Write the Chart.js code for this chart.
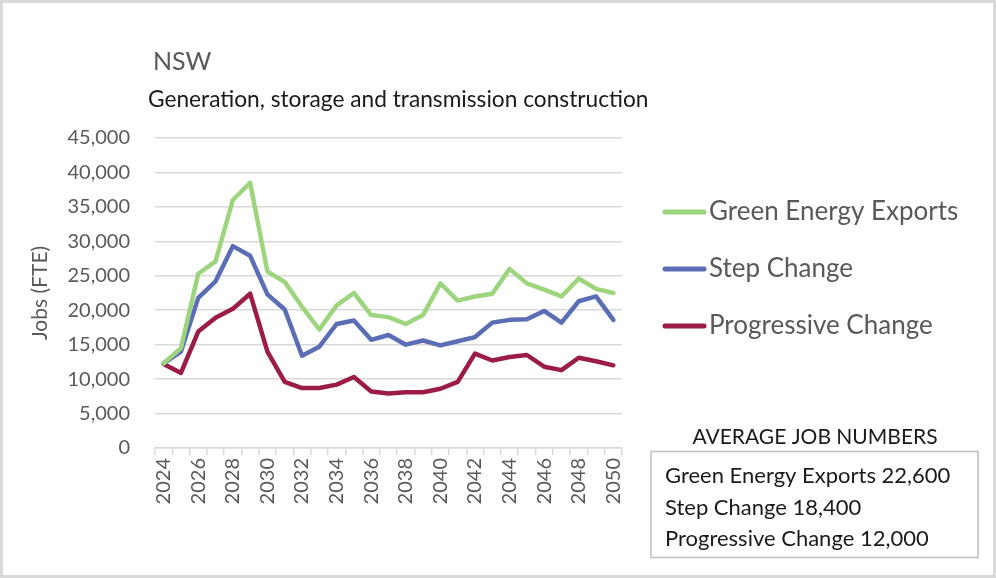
<!DOCTYPE html>
<html>
<head>
<meta charset="utf-8">
<script src="https://cdn.jsdelivr.net/npm/chart.js@4.4.1/dist/chart.umd.min.js"></script>
<style>
    html, body { margin: 0; padding: 0; background: #fff; }
    #chart-nsw { display: block; }
</style>
</head>
<body>
<canvas id="chart-nsw" width="996" height="578"></canvas>
<script>
// values
const years = ['2024', '2025', '2026', '2027', '2028', '2029', '2030', '2031', '2032',
    '2033', '2034', '2035', '2036', '2037', '2038', '2039', '2040', '2041', '2042',
    '2043', '2044', '2045', '2046', '2047', '2048', '2049', '2050'];

const greenEnergyExports = [12300, 14500, 25300, 27100, 36000, 38500, 25600, 24100, 20500,
    17200, 20700, 22500, 19300, 19000, 18000, 19300, 23900, 21400, 22000,
    22400, 26000, 23900, 23000, 22000, 24600, 23100, 22500];

const stepChange = [12300, 14000, 21800, 24200, 29300, 27900, 22300, 20100, 13400,
    14700, 18000, 18500, 15700, 16400, 15000, 15600, 14900, 15500, 16100,
    18200, 18600, 18700, 19900, 18200, 21300, 22000, 18600];

const progressiveChange = [12200, 10900, 16900, 18900, 20200, 22400, 14000, 9600, 8700,
    8700, 9200, 10300, 8200, 7900, 8100, 8100, 8600, 9600, 13700,
    12700, 13200, 13500, 11800, 11300, 13100, 12600, 12000];

const seriesNames = ['Green Energy Exports', 'Step Change', 'Progressive Change'];
const averageJobs = [22600, 18400, 12000];

const titleText = 'NSW';
const subtitleText = 'Generation, storage and transmission construction';
const boxTitle = 'AVERAGE JOB NUMBERS';

const colors = ['#9dd57f', '#5b6db5', '#9b1d45'];
const FONT = 'Lato, "Open Sans", sans-serif';
const fmt = (v) => Number(v).toLocaleString('en-US');

const decorations = {
    id: 'decorations',
    beforeDraw(chart) {
        const ctx = chart.ctx;
        ctx.save();
        ctx.fillStyle = '#fff';
        ctx.fillRect(0, 0, chart.width, chart.height);
        ctx.restore();
    },
    afterDraw(chart) {
        const ctx = chart.ctx;
        ctx.save();

        // outer frame
        ctx.strokeStyle = '#d9d9d9';
        ctx.lineWidth = 3;
        ctx.strokeRect(1.5, 1.5, chart.width - 3, chart.height - 3);

        // titles
        ctx.textBaseline = 'middle';
        ctx.textAlign = 'left';
        ctx.fillStyle = '#595959';
        ctx.font = '25px ' + FONT;
        ctx.fillText(titleText, 153, 62);
        ctx.fillStyle = '#1a1a1a';
        ctx.font = '22.7px ' + FONT;
        ctx.fillText(subtitleText, 148, 100);

        // legend
        chart.data.datasets.forEach((ds, i) => {
            const y = 212 + i * 57;
            ctx.strokeStyle = ds.borderColor;
            ctx.lineWidth = 5;
            ctx.lineCap = 'round';
            ctx.beginPath();
            ctx.moveTo(665, y);
            ctx.lineTo(704, y);
            ctx.stroke();
            ctx.fillStyle = '#595959';
            ctx.font = '26px ' + FONT;
            ctx.fillText(ds.label, 709, y);
        });

        // average box
        ctx.fillStyle = '#1a1a1a';
        ctx.textAlign = 'center';
        ctx.font = '21px ' + FONT;
        ctx.fillText(boxTitle, 815, 437);
        ctx.strokeStyle = '#bfbfbf';
        ctx.lineWidth = 1.5;
        ctx.strokeRect(651, 451.5, 327, 106);
        ctx.textAlign = 'left';
        ctx.font = '22px ' + FONT;
        seriesNames.forEach((name, i) => {
            ctx.fillText(name + ' ' + fmt(averageJobs[i]), 665, 476 + i * 31.5);
        });

        ctx.restore();
    }
};

const line = {
    fill: false,
    tension: 0,
    borderWidth: 4.5,
    pointRadius: 0,
    borderJoinStyle: 'round',
    borderCapStyle: 'round'
};

new Chart(document.getElementById('chart-nsw'), {
    type: 'line',
    data: {
        labels: years,
        datasets: [
            { ...line, label: seriesNames[0], data: greenEnergyExports, borderColor: colors[0] },
            { ...line, label: seriesNames[1], data: stepChange, borderColor: colors[1] },
            { ...line, label: seriesNames[2], data: progressiveChange, borderColor: colors[2] }
        ]
    },
    options: {
        responsive: false,
        animation: false,
        devicePixelRatio: 1,
        layout: { padding: { left: 28, top: 138, right: 374, bottom: 68 } },
        plugins: {
            legend: { display: false },
            tooltip: { enabled: false }
        },
        scales: {
            x: {
                offset: true,
                afterFit(scale) {
                    scale.height = 62;
                },
                grid: {
                    offset: true,
                    drawOnChartArea: false,
                    tickLength: 7,
                    color: '#d9d9d9',
                    lineWidth: 1.5
                },
                border: { color: '#d9d9d9', width: 1.5 },
                ticks: {
                    autoSkip: false,
                    minRotation: 90,
                    maxRotation: 90,
                    padding: 3,
                    color: '#595959',
                    font: { family: FONT, size: 20 },
                    callback: (v, i) => (i % 2 === 0 ? years[i] : '')
                }
            },
            y: {
                min: 0,
                max: 45000,
                afterFit(scale) {
                    scale.width = 127;
                },
                grid: {
                    color: '#d9d9d9',
                    lineWidth: 1.5,
                    drawTicks: false
                },
                border: { display: false },
                ticks: {
                    stepSize: 5000,
                    padding: 25,
                    color: '#595959',
                    font: { family: FONT, size: 20 },
                    callback: (v) => fmt(v)
                },
                title: {
                    display: true,
                    text: 'Jobs (FTE)',
                    color: '#595959',
                    padding: 0,
                    font: { family: FONT, size: 21 }
                }
            }
        }
    },
    plugins: [decorations]
});
</script>
</body>
</html>
